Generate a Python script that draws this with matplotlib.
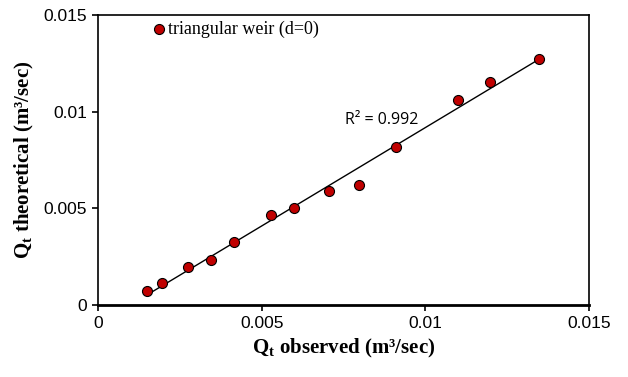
import numpy as np
import matplotlib
matplotlib.use("Agg")
from matplotlib import pyplot as plt

plt.rcParams['mathtext.fontset'] = 'custom'
plt.rcParams['mathtext.rm'] = 'Liberation Serif'
plt.rcParams['mathtext.bf'] = 'Liberation Serif:bold'

# observed vs theoretical discharge (m3/sec)
q_obs = [0.00150, 0.00197, 0.00275, 0.00346, 0.00415, 0.00529, 0.00599,
         0.00705, 0.00796, 0.00909, 0.01100, 0.01197, 0.01347]
q_theo = [0.00073, 0.00116, 0.00195, 0.00235, 0.00325, 0.00464, 0.00500,
          0.00590, 0.00620, 0.00820, 0.01060, 0.01155, 0.01274]
ticks = [0, 0.005, 0.01, 0.015]
tick_labels = ['0', '0.005', '0.01', '0.015']

fig = plt.figure(figsize=(6.28, 3.77), dpi=100)
ax = fig.add_axes([0.156, 0.191, 0.782, 0.768])

ax.scatter(q_obs, q_theo, s=52, color='#c00000', edgecolors='black',
           linewidths=0.8, zorder=3, label='triangular weir (d=0)')

# linear trendline
a, b = np.polyfit(q_obs, q_theo, 1)
xs = np.array([min(q_obs), max(q_obs)])
ax.plot(xs, a * xs + b, color='black', lw=1.0, zorder=2)
ax.text(0.00868, 0.00958, 'R² = 0.992', fontsize=11.5, family='Open Sans',
        ha='center', va='center')

ax.set_xlim(0, 0.015)
ax.set_ylim(0, 0.015)
ax.set_xticks(ticks)
ax.set_xticklabels(tick_labels)
ax.set_yticks(ticks)
ax.set_yticklabels(tick_labels)
ax.tick_params(direction='out', length=4, width=1.2, labelsize=12.5, pad=4)
for lab in ax.get_xticklabels() + ax.get_yticklabels():
    lab.set_family('Liberation Sans')
for sp in ax.spines.values():
    sp.set_linewidth(1.2)
ax.spines['bottom'].set_linewidth(2.0)

ax.set_xlabel(r'Q$_\mathbf{t}$ observed (m³/sec)', family='Liberation Serif',
              fontweight='bold', fontsize=15, labelpad=4)
ax.set_ylabel(r'Q$_\mathbf{t}$ theoretical (m³/sec)', family='Liberation Serif',
              fontweight='bold', fontsize=15, labelpad=5)

leg = ax.legend(loc='center left', bbox_to_anchor=(0.105, 0.952), frameon=False,
                handletextpad=0.0, handlelength=1.0, borderaxespad=0,
                borderpad=0, prop={'family': 'Liberation Serif', 'size': 13})

fig.savefig('out.png', dpi=100)
